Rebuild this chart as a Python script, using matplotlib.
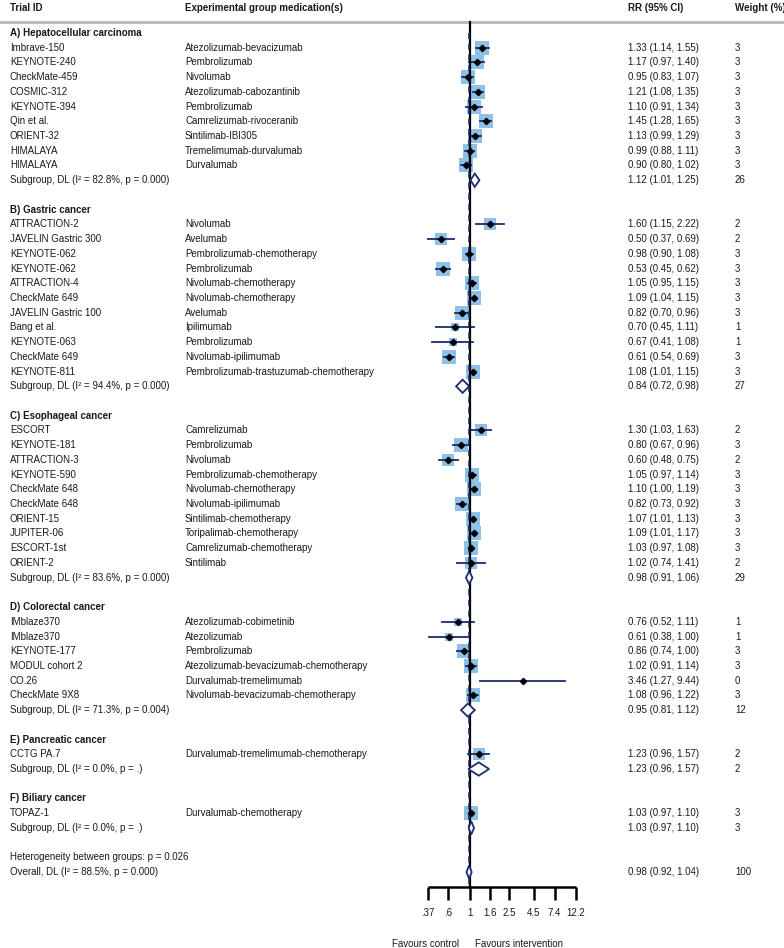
import numpy as np
import matplotlib

matplotlib.use("Agg")
import matplotlib.pyplot as plt
from matplotlib.patches import Polygon
from matplotlib.transforms import blended_transform_factory

plt.rcParams["font.family"] = ["Liberation Sans", "DejaVu Sans"]

# ---- data ----
group_names = [
    "A) Hepatocellular carcinoma",
    "B) Gastric cancer",
    "C) Esophageal cancer",
    "D) Colorectal cancer",
    "E) Pancreatic cancer",
    "F) Biliary cancer",
]

trial_ids = [
    ["Imbrave-150", "KEYNOTE-240", "CheckMate-459", "COSMIC-312", "KEYNOTE-394",
     "Qin et al.", "ORIENT-32", "HIMALAYA", "HIMALAYA"],
    ["ATTRACTION-2", "JAVELIN Gastric 300", "KEYNOTE-062", "KEYNOTE-062", "ATTRACTION-4",
     "CheckMate 649", "JAVELIN Gastric 100", "Bang et al.", "KEYNOTE-063", "CheckMate 649",
     "KEYNOTE-811"],
    ["ESCORT", "KEYNOTE-181", "ATTRACTION-3", "KEYNOTE-590", "CheckMate 648", "CheckMate 648",
     "ORIENT-15", "JUPITER-06", "ESCORT-1st", "ORIENT-2"],
    ["IMblaze370", "IMblaze370", "KEYNOTE-177", "MODUL cohort 2", "CO.26", "CheckMate 9X8"],
    ["CCTG PA.7"],
    ["TOPAZ-1"],
]

medications = [
    ["Atezolizumab-bevacizumab", "Pembrolizumab", "Nivolumab", "Atezolizumab-cabozantinib",
     "Pembrolizumab", "Camrelizumab-rivoceranib", "Sintilimab-IBI305", "Tremelimumab-durvalumab",
     "Durvalumab"],
    ["Nivolumab", "Avelumab", "Pembrolizumab-chemotherapy", "Pembrolizumab", "Nivolumab-chemotherapy",
     "Nivolumab-chemotherapy", "Avelumab", "Ipilimumab", "Pembrolizumab", "Nivolumab-ipilimumab",
     "Pembrolizumab-trastuzumab-chemotherapy"],
    ["Camrelizumab", "Pembrolizumab", "Nivolumab", "Pembrolizumab-chemotherapy", "Nivolumab-chemotherapy",
     "Nivolumab-ipilimumab", "Sintilimab-chemotherapy", "Toripalimab-chemotherapy",
     "Camrelizumab-chemotherapy", "Sintilimab"],
    ["Atezolizumab-cobimetinib", "Atezolizumab", "Pembrolizumab", "Atezolizumab-bevacizumab-chemotherapy",
     "Durvalumab-tremelimumab", "Nivolumab-bevacizumab-chemotherapy"],
    ["Durvalumab-tremelimumab-chemotherapy"],
    ["Durvalumab-chemotherapy"],
]

rr = [
    [1.33, 1.17, 0.95, 1.21, 1.10, 1.45, 1.13, 0.99, 0.90],
    [1.60, 0.50, 0.98, 0.53, 1.05, 1.09, 0.82, 0.70, 0.67, 0.61, 1.08],
    [1.30, 0.80, 0.60, 1.05, 1.10, 0.82, 1.07, 1.09, 1.03, 1.02],
    [0.76, 0.61, 0.86, 1.02, 3.46, 1.08],
    [1.23],
    [1.03],
]
ci_low = [
    [1.14, 0.97, 0.83, 1.08, 0.91, 1.28, 0.99, 0.88, 0.80],
    [1.15, 0.37, 0.90, 0.45, 0.95, 1.04, 0.70, 0.45, 0.41, 0.54, 1.01],
    [1.03, 0.67, 0.48, 0.97, 1.00, 0.73, 1.01, 1.01, 0.97, 0.74],
    [0.52, 0.38, 0.74, 0.91, 1.27, 0.96],
    [0.96],
    [0.97],
]
ci_high = [
    [1.55, 1.40, 1.07, 1.35, 1.34, 1.65, 1.29, 1.11, 1.02],
    [2.22, 0.69, 1.08, 0.62, 1.15, 1.15, 0.96, 1.11, 1.08, 0.69, 1.15],
    [1.63, 0.96, 0.75, 1.14, 1.19, 0.92, 1.13, 1.17, 1.08, 1.41],
    [1.11, 1.00, 1.00, 1.14, 9.44, 1.22],
    [1.57],
    [1.10],
]
weights = [
    [3, 3, 3, 3, 3, 3, 3, 3, 3],
    [2, 2, 3, 3, 3, 3, 3, 1, 1, 3, 3],
    [2, 3, 2, 3, 3, 3, 3, 3, 3, 2],
    [1, 1, 3, 3, 0, 3],
    [2],
    [3],
]

sub_i2 = ["82.8%", "94.4%", "83.6%", "71.3%", "0.0%", "0.0%"]
sub_p = ["0.000", "0.000", "0.000", "0.004", ".", "."]
sub_rr = [1.12, 0.84, 0.98, 0.95, 1.23, 1.03]
sub_low = [1.01, 0.72, 0.91, 0.81, 0.96, 0.97]
sub_high = [1.25, 0.98, 1.06, 1.12, 1.57, 1.10]
sub_weight = [26, 27, 29, 12, 2, 3]

het_between_p = "0.026"
overall_i2, overall_p = "88.5%", "0.000"
overall_rr, overall_low, overall_high, overall_weight = 0.98, 0.92, 1.04, 100

tick_values = [0.37, 0.6, 1, 1.6, 2.5, 4.5, 7.4, 12.2]
tick_labels = [".37", ".6", "1", "1.6", "2.5", "4.5", "7.4", "12.2"]

# ---- layout ----
W, H = 784, 948
PX_PER_LN = 42.3      # pixels per unit of ln(RR)
X_ONE = 470           # pixel x of RR = 1
Y0, DY = 33, 14.72    # pixel y of first row, row spacing

NAVY = "#1B2C6E"
SQUARE = "#8EC0E8"
TXT = "#1a1a1a"
FS = 7.0

fig = plt.figure(figsize=(W / 100, H / 100), dpi=100)
ax = fig.add_axes([0, 0, 1, 1])
ax.set_xscale("log")
ax.set_xlim(np.exp(-X_ONE / PX_PER_LN), np.exp((W - X_ONE) / PX_PER_LN))
ax.set_ylim((H - Y0) / DY, -Y0 / DY)
ax.axis("off")

tr = blended_transform_factory(ax.transAxes, ax.transData)


def col(px):
    return px / W


def put(px, row, s, **kw):
    ax.text(col(px), row, s, transform=tr, va="center", fontsize=FS, color=TXT, **kw)


def diamond(est, lo, hi, row):
    h = 0.45
    ax.add_patch(Polygon([(lo, row), (est, row - h), (hi, row), (est, row + h)],
                         closed=True, facecolor="white", edgecolor=NAVY, linewidth=1.3, zorder=4))


# header
hdr_row = -1.7
put(10, hdr_row, "Trial ID", weight="bold")
put(185, hdr_row, "Experimental group medication(s)", weight="bold")
put(628, hdr_row, "RR (95% CI)", weight="bold")
put(735, hdr_row, "Weight (%)", weight="bold")
ax.plot([col(0), col(783)], [-0.75, -0.75], transform=tr, color="#BBBBBB", linewidth=2.2)

row = 0
for g, name in enumerate(group_names):
    put(10, row, name, weight="bold")
    row += 1
    for i in range(len(trial_ids[g])):
        put(10, row, trial_ids[g][i])
        put(185, row, medications[g][i])
        put(628, row, f"{rr[g][i]:.2f} ({ci_low[g][i]:.2f}, {ci_high[g][i]:.2f})")
        put(735, row, f"{weights[g][i]}")
        w = weights[g][i]
        if w > 0:
            ax.plot(rr[g][i], row, marker="s", markersize=5.9 * np.sqrt(w),
                    color=SQUARE, markeredgewidth=0, zorder=2)
        ax.plot([ci_low[g][i], ci_high[g][i]], [row, row], color=NAVY, linewidth=1.3, zorder=3)
        ax.plot(rr[g][i], row, marker="D", markersize=3.2, color="black", zorder=5)
        row += 1
    put(10, row, f"Subgroup, DL (I² = {sub_i2[g]}, p = {sub_p[g]})")
    put(628, row, f"{sub_rr[g]:.2f} ({sub_low[g]:.2f}, {sub_high[g]:.2f})")
    put(735, row, f"{sub_weight[g]}")
    diamond(sub_rr[g], sub_low[g], sub_high[g], row)
    row += 2

put(10, row, f"Heterogeneity between groups: p = {het_between_p}")
row += 1
put(10, row, f"Overall, DL (I² = {overall_i2}, p = {overall_p})")
put(628, row, f"{overall_rr:.2f} ({overall_low:.2f}, {overall_high:.2f})")
put(735, row, f"{overall_weight}")
diamond(overall_rr, overall_low, overall_high, row)

# reference lines and axis
axis_row = row + 1.0
ax.plot([1, 1], [-0.75, axis_row], color="black", linewidth=1.6, zorder=3)
ax.plot([overall_rr, overall_rr], [0, axis_row], color=NAVY, linewidth=1.1,
        linestyle=(0, (4, 3)), zorder=3)
ax.plot([tick_values[0], tick_values[-1]], [axis_row, axis_row], color="black",
        linewidth=1.8, solid_capstyle="butt")
for v, lab in zip(tick_values, tick_labels):
    ax.plot([v, v], [axis_row, axis_row + 0.9], color="black", linewidth=1.8,
            solid_capstyle="butt")
    ax.text(v, axis_row + 1.8, lab, ha="center", va="center", fontsize=FS, color=TXT)

put(392, axis_row + 3.9, "Favours control")
put(475, axis_row + 3.9, "Favours intervention")

fig.savefig("out.png", dpi=100)
